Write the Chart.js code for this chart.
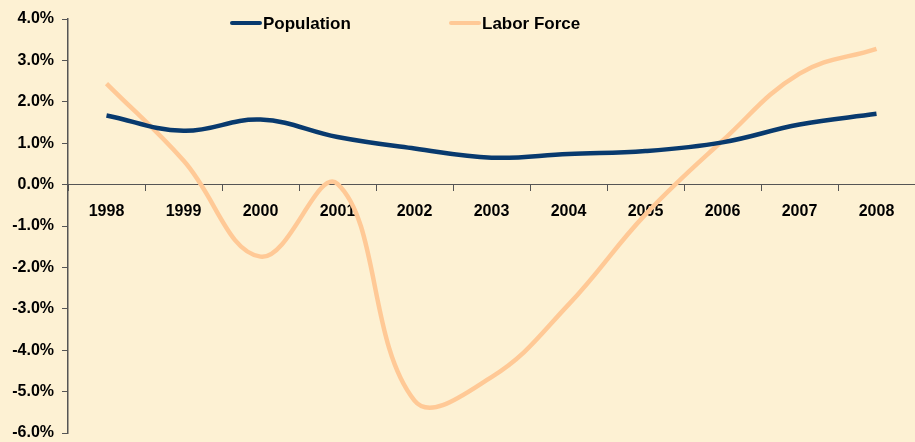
<!DOCTYPE html>
<html>
<head>
<meta charset="utf-8">
<script src="https://cdn.jsdelivr.net/npm/chart.js@4/dist/chart.umd.min.js"></script>
<style>
  html, body { margin: 0; padding: 0; background: #FDF1D3; }
  #wrap { width: 915px; height: 442px; }
</style>
</head>
<body>
<div id="wrap"><canvas id="growthChart" width="915" height="442"></canvas></div>
<script>
const popColor = '#083A6E';
const laborColor = '#FFC996';
const bgColor = '#FDF1D3';
const fontFamily = '"Liberation Sans", Arial, sans-serif';

// 年份
const years = ['1998', '1999', '2000', '2001', '2002', '2003', '2004', '2005', '2006', '2007', '2008'];
// 人口成長率 (%)
const population = [1.67, 1.30, 1.57, 1.15, 0.87, 0.65, 0.74, 0.81, 1.02, 1.45, 1.71];
// 勞動力成長率 (%)
const laborForce = [2.44, 0.58, -1.74, 0.02, -5.22, -4.65, -2.9, -0.72, 1.06, 2.68, 3.28];
const seriesNames = ['Population', 'Labor Force'];

// 背景 + 圖例
const bgLegend = {
  id: 'bgLegend',
  beforeDraw(chart) {
    const ctx = chart.ctx;
    ctx.save();
    ctx.fillStyle = bgColor;
    ctx.fillRect(0, 0, chart.width, chart.height);
    ctx.restore();
  },
  afterDraw(chart) {
    const ctx = chart.ctx;
    const items = [
      { x: 231, color: popColor, text: seriesNames[0] },
      { x: 450, color: laborColor, text: seriesNames[1] }
    ];
    ctx.save();
    ctx.font = 'bold 17px ' + fontFamily;
    ctx.textBaseline = 'middle';
    items.forEach(it => {
      ctx.strokeStyle = it.color;
      ctx.lineWidth = 4;
      ctx.lineCap = 'round';
      ctx.beginPath();
      ctx.moveTo(it.x + 1, 23);
      ctx.lineTo(it.x + 29, 23);
      ctx.stroke();
      ctx.fillStyle = '#000';
      ctx.fillText(it.text, it.x + 32, 24);
    });
    ctx.restore();
  }
};

// 不讓刻度標籤佔用額外邊距
const noPad = scale => {
  scale.paddingTop = 0;
  scale.paddingBottom = 0;
  scale.paddingLeft = 0;
  scale.paddingRight = 0;
};

new Chart(document.getElementById('growthChart'), {
  type: 'line',
  data: {
    labels: years,
    datasets: [{
      label: seriesNames[0],
      data: population,
      borderColor: popColor,
      borderWidth: 4.5,
      pointRadius: 0,
      tension: 0.4,
      fill: false
    }, {
      label: seriesNames[1],
      data: laborForce,
      borderColor: laborColor,
      borderWidth: 4.5,
      pointRadius: 0,
      tension: 0.4,
      fill: false
    }]
  },
  options: {
    responsive: false,
    animation: false,
    layout: { padding: { top: 19, right: 0, bottom: 9, left: 0 } },
    plugins: {
      legend: { display: false },
      title: { display: false },
      tooltip: { enabled: false }
    },
    scales: {
      x: {
        position: { y: 0 },
        offset: true,
        afterFit: noPad,
        grid: {
          offset: true,
          drawOnChartArea: false,
          drawTicks: true,
          tickLength: 6,
          color: '#555'
        },
        border: { color: '#555', width: 1 },
        ticks: {
          color: '#000',
          padding: 11,
          maxRotation: 0,
          font: { family: fontFamily, size: 16, weight: 'bold' }
        }
      },
      y: {
        min: -6,
        max: 4,
        afterFit(scale) { scale.width = 68; noPad(scale); },
        grid: {
          drawOnChartArea: false,
          drawTicks: true,
          tickLength: 6,
          color: '#555'
        },
        border: { color: '#555', width: 1.5 },
        ticks: {
          stepSize: 1,
          color: '#000',
          padding: 8,
          font: { family: fontFamily, size: 16, weight: 'bold' },
          callback: v => v.toFixed(1) + '%'
        }
      }
    }
  },
  plugins: [bgLegend]
});
</script>
</body>
</html>
